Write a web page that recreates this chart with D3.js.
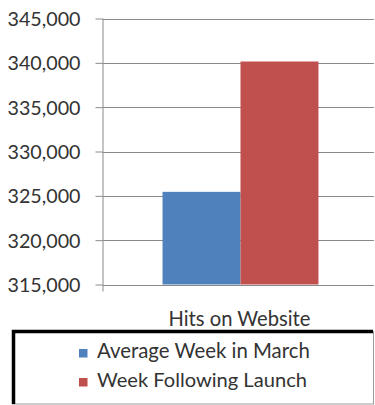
<!DOCTYPE html>
<html>
<head>
<meta charset="utf-8">
<script src="https://cdn.jsdelivr.net/npm/d3@7"></script>
<style>
  html, body { margin: 0; padding: 0; background: #fff; }
  svg { display: block; }
  text { font-family: Lato, "Open Sans", sans-serif; fill: #333; }
</style>
</head>
<body>
<svg id="chart" width="375" height="405"></svg>
<script>
// Chart data
const categories = ["Hits on Website"];
const seriesNames = ["Average Week in March", "Week Following Launch"];
const seriesValues = [325450, 340150];
const seriesColors = ["#4F81BD", "#C0504D"];
const yTicks = [315000, 320000, 325000, 330000, 335000, 340000, 345000];

const svg = d3.select("#chart");
const W = 375, H = 405;

const plot = { left: 102.5, top: 18.5, bottom: 284.5, right: 374, bandRight: 378.5 };

const y = d3.scaleLinear()
  .domain([315000, 345000])
  .range([plot.bottom, plot.top]);

const x0 = d3.scaleBand()
  .domain(categories)
  .range([plot.left, plot.bandRight])
  .paddingInner(0)
  .paddingOuter(0.385);

const x1 = d3.scaleBand()
  .domain(seriesNames)
  .range([0, x0.bandwidth()])
  .padding(0);

const fmt = d3.format(",");

// Horizontal gridlines
svg.append("g")
  .selectAll("line")
  .data(yTicks)
  .join("line")
  .attr("x1", plot.left)
  .attr("x2", plot.right)
  .attr("y1", d => Math.round(y(d)) + 0.5)
  .attr("y2", d => Math.round(y(d)) + 0.5)
  .attr("stroke", "#8a8a8a")
  .attr("stroke-width", 1);

// Bars
const group = svg.append("g")
  .selectAll("g")
  .data(categories)
  .join("g")
  .attr("transform", d => `translate(${x0(d)},0)`);

group.selectAll("rect")
  .data(() => seriesNames.map((s, i) => ({ s, v: seriesValues[i], c: seriesColors[i] })))
  .join("rect")
  .attr("x", d => x1(d.s))
  .attr("y", d => y(d.v))
  .attr("width", x1.bandwidth())
  .attr("height", d => y(315000) - y(d.v))
  .attr("fill", d => d.c);

// Y axis with ticks on the left
const yAxis = svg.append("g")
  .attr("transform", `translate(${plot.left},0)`)
  .call(d3.axisLeft(y).tickValues(yTicks).tickFormat(fmt).tickSize(7).tickPadding(15));

yAxis.select(".domain").attr("stroke", "#8a8a8a").attr("d", `M0.5,${plot.top}V${plot.bottom + 7}`);
yAxis.selectAll(".tick line").attr("stroke", "#8a8a8a");
yAxis.selectAll(".tick text")
  .attr("fill", "#333")
  .style("font-size", "19px");

// Fit a text element's font size so its width matches a target
function fitWidth(sel, target) {
  const node = sel.node();
  const fs = parseFloat(sel.style("font-size"));
  const w = node.getComputedTextLength();
  sel.style("font-size", (fs * target / w) + "px");
}

yAxis.selectAll(".tick text").each(function () {
  fitWidth(d3.select(this), 73);
}).attr("dy", "0.35em");

// Category label
const catLabel = svg.append("text")
  .attr("x", x0(categories[0]) + x0.bandwidth() / 2 - 1)
  .attr("y", 326)
  .attr("text-anchor", "middle")
  .style("font-size", "19px")
  .text(categories[0]);
fitWidth(catLabel, 142);

// Legend box
svg.append("rect")
  .attr("x", 12.5).attr("y", 331.5)
  .attr("width", 361).attr("height", 72.5)
  .attr("fill", "#fff")
  .attr("stroke", "#9a9a9a");
svg.append("path")
  .attr("d", "M13.5,404V331.5H373")
  .attr("fill", "none")
  .attr("stroke", "#000")
  .attr("stroke-width", 3.5);

const legend = svg.append("g")
  .selectAll("g")
  .data(seriesNames)
  .join("g")
  .attr("transform", (d, i) => `translate(79,${358 + i * 29})`);

legend.append("rect")
  .attr("x", 0).attr("y", -9)
  .attr("width", 8.5).attr("height", 8.5)
  .attr("fill", (d, i) => seriesColors[i]);

legend.append("text")
  .attr("x", 18)
  .attr("y", 0)
  .style("font-size", "20px")
  .text(d => d)
  .each(function (d, i) {
    fitWidth(d3.select(this), i === 0 ? 213 : 210);
  });
</script>
</body>
</html>
